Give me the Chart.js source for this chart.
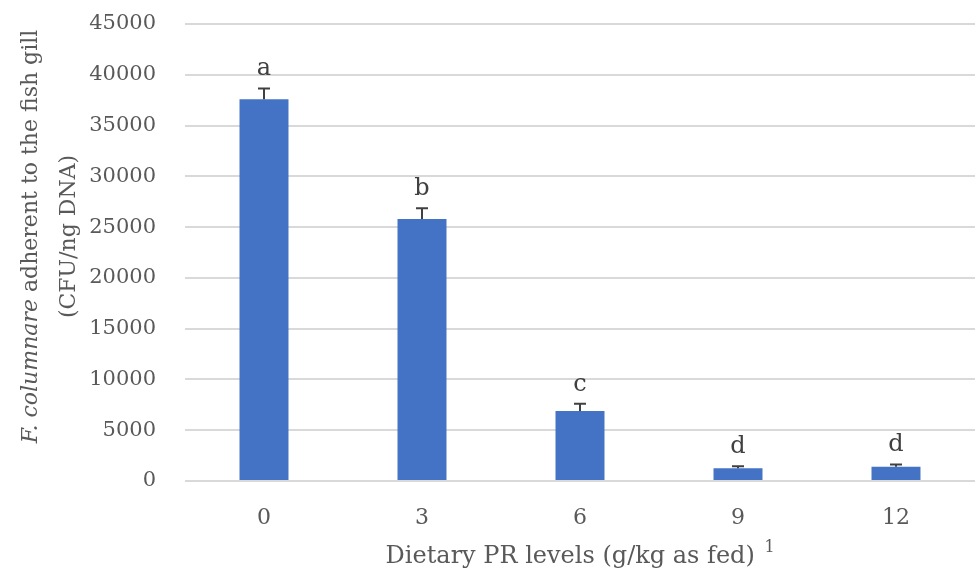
<!DOCTYPE html>
<html>
<head>
<meta charset="utf-8">
<script src="https://cdn.jsdelivr.net/npm/chart.js@4.4.1/dist/chart.umd.min.js"></script>
<style>
  html, body { margin: 0; padding: 0; background: #fff; }
  #wrap { width: 977px; height: 578px; position: relative; }
</style>
</head>
<body>
<div id="wrap"><canvas id="gillChart"></canvas></div>
<script>
const levels = ['0', '3', '6', '9', '12'];
const cfuMeans = [37600, 25800, 6900, 1250, 1400];
const cfuErrors = [1050, 1050, 700, 200, 230];
const letters = ['a', 'b', 'c', 'd', 'd'];
const yTicks = [0, 5000, 10000, 15000, 20000, 25000, 30000, 35000, 40000, 45000];

const FONT = '"DejaVu Serif", serif';
const TEXT = '#595959';

// error bars + significance letters drawn on top of the bars
const errorBars = {
  id: 'errorBars',
  afterDatasetsDraw(chart) {
    const ctx = chart.ctx;
    const y = chart.scales.y;
    const meta = chart.getDatasetMeta(0);
    ctx.save();
    meta.data.forEach((bar, i) => {
      const top = y.getPixelForValue(cfuMeans[i] + cfuErrors[i]);
      const mid = y.getPixelForValue(cfuMeans[i]);
      ctx.strokeStyle = '#404040';
      ctx.lineWidth = 2;
      ctx.beginPath();
      ctx.moveTo(bar.x, mid);
      ctx.lineTo(bar.x, top);
      ctx.moveTo(bar.x - 6, top);
      ctx.lineTo(bar.x + 6, top);
      ctx.stroke();
      ctx.fillStyle = '#404040';
      ctx.font = '24px ' + FONT;
      ctx.textAlign = 'center';
      ctx.textBaseline = 'alphabetic';
      ctx.fillText(letters[i], bar.x, top - 13);
    });
    ctx.restore();
  }
};

// axis titles (y title has an italic species name)
const axisTitles = {
  id: 'axisTitles',
  afterDraw(chart) {
    const ctx = chart.ctx;
    const area = chart.chartArea;
    const cx = (area.left + area.right) / 2;
    ctx.save();
    ctx.fillStyle = TEXT;
    ctx.textBaseline = 'alphabetic';
    ctx.font = '24px ' + FONT;
    const xTitle = 'Dietary PR levels (g/kg as fed) ';
    const w = ctx.measureText(xTitle).width;
    ctx.textAlign = 'left';
    ctx.fillText(xTitle, cx - w / 2 - 6, 563);
    ctx.font = '16px ' + FONT;
    ctx.fillText('1', cx + w / 2 - 4, 552);

    const cy = (area.top + area.bottom) / 2 - 16;
    ctx.translate(0, cy);
    ctx.rotate(-Math.PI / 2);
    const italicPart = 'F. columnare';
    const rest = ' adherent to the fish gill';
    ctx.font = 'italic 22px ' + FONT;
    const w1 = ctx.measureText(italicPart).width;
    ctx.font = '22px ' + FONT;
    const w2 = ctx.measureText(rest).width;
    const x0 = -(w1 + w2) / 2;
    ctx.textAlign = 'left';
    ctx.font = 'italic 22px ' + FONT;
    ctx.fillText(italicPart, x0, 37);
    ctx.font = '22px ' + FONT;
    ctx.fillText(rest, x0 + w1, 37);
    ctx.textAlign = 'center';
    ctx.fillText('(CFU/ng DNA)', 0, 75);
    ctx.restore();
  }
};

new Chart(document.getElementById('gillChart'), {
  type: 'bar',
  data: {
    labels: levels,
    datasets: [{
      data: cfuMeans,
      backgroundColor: '#4472C4',
      borderWidth: 0,
      categoryPercentage: 1,
      barPercentage: 0.31
    }]
  },
  options: {
    responsive: true,
    maintainAspectRatio: false,
    animation: false,
    layout: { padding: { top: 24, right: 2, left: 0, bottom: 0 } },
    plugins: { legend: { display: false }, tooltip: { enabled: false } },
    scales: {
      x: {
        grid: { display: false, drawTicks: false },
        border: { display: false },
        ticks: { color: TEXT, font: { family: FONT, size: 22 }, padding: 24 },
        afterFit(scale) { scale.height = 97; scale.paddingLeft = 0; scale.paddingRight = 0; }
      },
      y: {
        min: 0,
        max: 45000,
        afterBuildTicks(scale) { scale.ticks = yTicks.map(v => ({ value: v })); },
        grid: { color: '#d9d9d9', lineWidth: 2, drawTicks: false },
        border: { display: false },
        ticks: { color: TEXT, font: { family: FONT, size: 21 }, padding: 29, callback: v => String(v) },
        afterFit(scale) { scale.width = 185; scale.paddingTop = 0; scale.paddingBottom = 0; }
      }
    }
  },
  plugins: [errorBars, axisTitles]
});
</script>
</body>
</html>
